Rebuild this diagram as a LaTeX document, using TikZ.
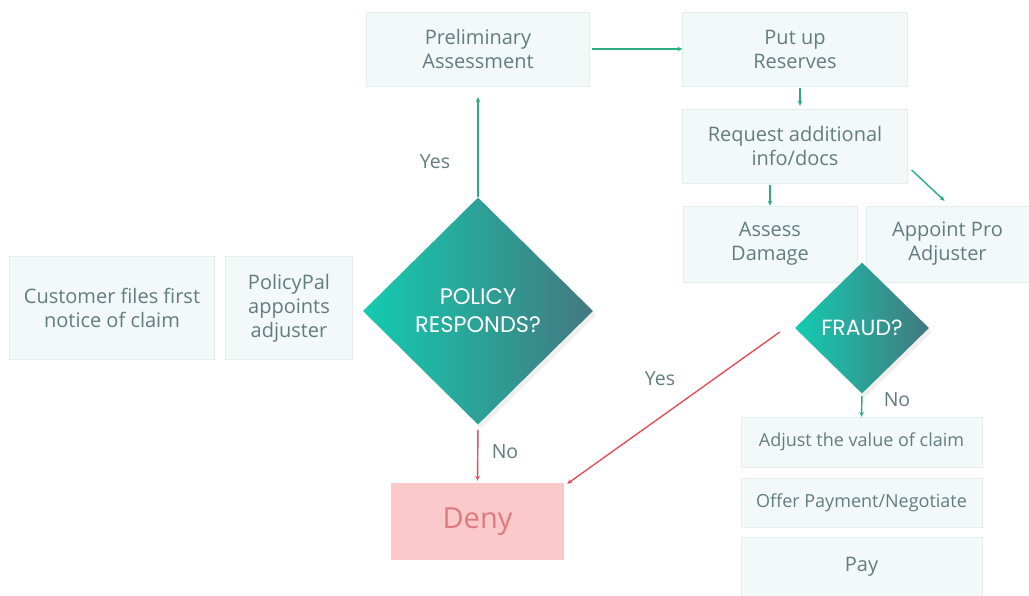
\documentclass[tikz,border=0pt]{standalone}
\usepackage{fontspec}
\setmainfont{Open Sans}
\newfontfamily\diafont{Poppins}
\usetikzlibrary{shapes.geometric,arrows.meta,shadows}

\definecolor{boxfill}{HTML}{F3F8F9}
\definecolor{boxline}{HTML}{E4EDEF}
\definecolor{boxtext}{HTML}{627D80}
\definecolor{arrowgreen}{HTML}{2BAE7E}
\definecolor{arrowred}{HTML}{E0505A}
\definecolor{denyfill}{HTML}{FBC9C9}
\definecolor{denytext}{HTML}{DC7B7E}
\definecolor{tealleft}{HTML}{14CBB0}
\definecolor{tealright}{HTML}{43787F}

\tikzset{
    stepbox/.style={draw=boxline, fill=boxfill, text=boxtext, align=center,
        inner sep=0pt, font=\fontsize{20}{24}\selectfont},
    decision/.style={diamond, inner sep=0pt, left color=tealleft, right color=tealright,
        text=white, align=center, drop shadow={shadow xshift=3pt, shadow yshift=-4pt, opacity=0.12}},
    yesarrow/.style={draw=arrowgreen, line width=1.4pt, -{Stealth[length=5pt,width=4.5pt]}},
    noarrow/.style={draw=arrowred, line width=1.4pt, -{Stealth[length=5pt,width=4.5pt]}},
    answer/.style={text=boxtext, font=\fontsize{19.5}{22}\selectfont}
}

\begin{document}
\begin{tikzpicture}[x=1pt, y=-1pt]
    \useasboundingbox[fill=white] (0,0) rectangle (1029,596);

    % left boxes
    \node[stepbox, minimum width=205, minimum height=103] (customer) at (112,308) {Customer files first\\notice of claim};
    \node[stepbox, minimum width=127, minimum height=103] (appoints) at (289,308) {PolicyPal\\appoints\\adjuster};

    % first decision
    \node[decision, minimum width=230, minimum height=227, font=\diafont\fontsize{22.5}{28}\selectfont] (responds) at (478,311) {POLICY\\RESPONDS?};

    % top row
    \node[stepbox, minimum width=223, minimum height=74] (prelim) at (478,49) {Preliminary\\Assessment};
    \node[stepbox, minimum width=225, minimum height=74] (reserves) at (795,49) {Put up\\Reserves};
    \node[stepbox, minimum width=225, minimum height=74] (request) at (795,146) {Request additional\\info/docs};
    \node[stepbox, minimum width=174, minimum height=76] (assess) at (770,244) {Assess\\Damage};
    \node[stepbox, minimum width=163, minimum height=76] (proadj) at (947.5,244) {Appoint Pro\\Adjuster};

    % fraud decision
    \node[decision, minimum width=134, minimum height=131, font=\diafont\fontsize{22}{24}\selectfont] (fraud) at (862,328) {FRAUD?};

    % payment boxes
    \node[stepbox, minimum width=241, minimum height=50, font=\fontsize{18}{20}\selectfont] (adjust) at (861.5,442) {Adjust the value of claim};
    \node[stepbox, minimum width=241, minimum height=49, font=\fontsize{18}{20}\selectfont] (offer) at (861.5,502.5) {Offer Payment/Negotiate};
    \node[stepbox, minimum width=241, minimum height=59] (pay) at (861.5,566.5) {Pay};

    % deny box
    \node[draw=none, fill=denyfill, text=denytext, minimum width=173, minimum height=77,
        inner sep=0pt, font=\fontsize{29}{32}\selectfont] (deny) at (477.5,521.5) {Deny};

    % connectors
    \draw[yesarrow, shorten >=11pt] (responds.north) -- (prelim.south);
    \draw[yesarrow, shorten <=2pt] (prelim.east) -- (reserves.west);
    \draw[yesarrow, shorten <=2pt, shorten >=3pt] ([xshift=5]reserves.south) -- ([xshift=5]request.north);
    \draw[yesarrow, shorten <=2pt] (assess.north |- request.south) -- (assess.north);
    \draw[yesarrow] ([shift={(4,24)}]request.east) -- ([shift={(-3,-5)}]proadj.north);
    \draw[yesarrow, shorten <=2pt] (fraud.south) -- (adjust.north);
    \draw[noarrow, shorten <=5pt, shorten >=2pt] (responds.south) -- (deny.north);
    \draw[noarrow] ([shift={(-15,4)}]fraud.west) -- ([shift={(3,1)}]deny.north east);

    % answers
    \node[answer] (yes1) at (435,162) {Yes};
    \node[answer] (no1) at (505,452) {No};
    \node[answer] (yes2) at (660,379) {Yes};
    \node[answer] (no2) at (897,400) {No};

\end{tikzpicture}
\end{document}
